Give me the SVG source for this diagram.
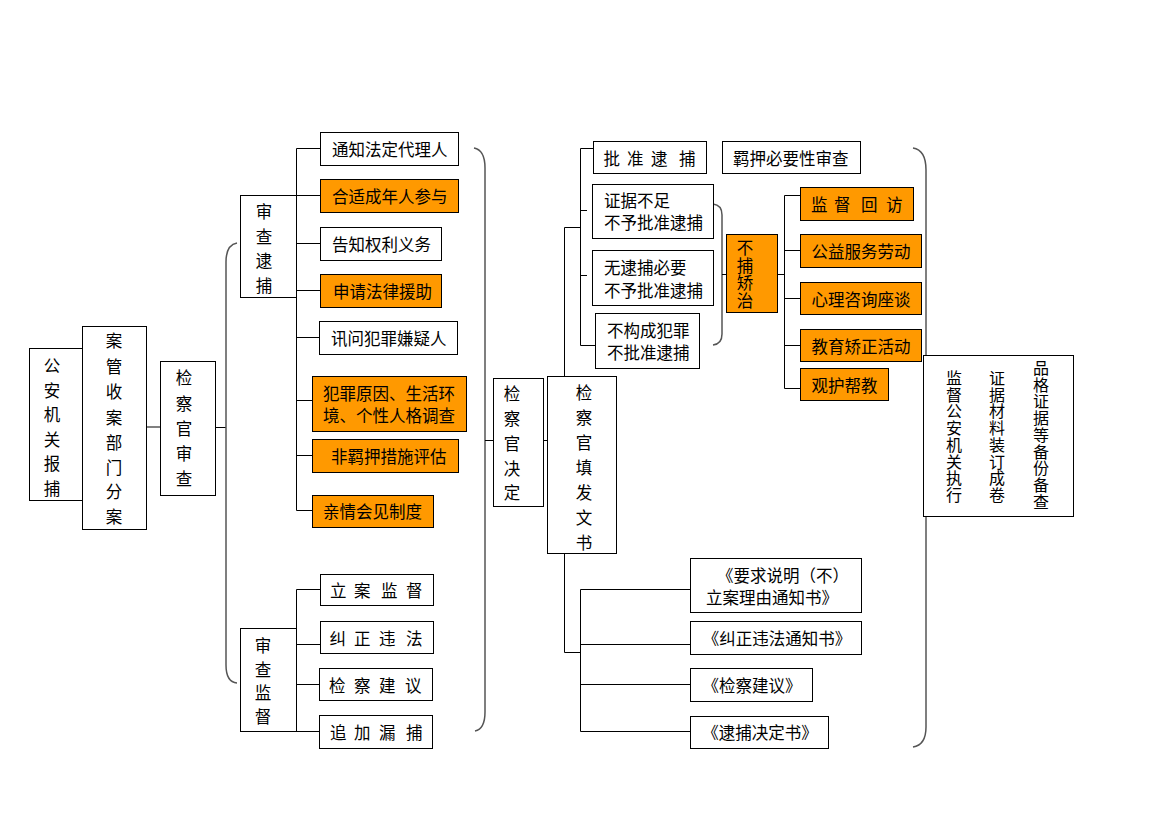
<svg xmlns="http://www.w3.org/2000/svg" width="1160" height="821" viewBox="0 0 1160 821">
<style>
.box{fill:#fff;stroke:#000;stroke-width:1}
.org{fill:#f90;stroke:#000;stroke-width:1}
.t{font-family:"Noto Sans CJK SC","Noto Sans CJK JP",sans-serif;font-size:16.5px;fill:#000;dominant-baseline:central}
.v{text-anchor:middle}
.m{text-anchor:middle}
.col{font-family:"Noto Sans CJK SC","Noto Sans CJK JP",sans-serif;font-size:16px;fill:#000;writing-mode:vertical-rl;letter-spacing:0.7px}
.ln{stroke:#000;stroke-width:1;fill:none}
.br{stroke:#555;stroke-width:1.5;fill:none}
</style>
<defs>
<marker id="ah" markerWidth="10" markerHeight="10" refX="9" refY="4.5" orient="auto" markerUnits="userSpaceOnUse">
<path d="M0,0 L9,4.5 L0,9 z" fill="#000"/>
</marker>
</defs>
<rect width="1160" height="821" fill="#fff"/>
<g id="connectors">
<line class="ln" x1="67" y1="424.5" x2="82" y2="424.5" marker-end="url(#ah)"/>
<line x1="147" y1="427" x2="160" y2="427" stroke="#808080" stroke-width="2"/>
<line class="ln" x1="197" y1="427.5" x2="226" y2="427.5"/>
<path class="br" d="M237,243 Q226,245 226,262 V665 Q226,682 237,683"/>
<line class="ln" x1="281" y1="235.5" x2="296" y2="235.5"/>
<path class="ln" d="M296.5,148.5 V510.5 M296.5,148.5 H320 M296.5,195.5 H320 M296.5,243.5 H320 M296.5,290.5 H320 M296.5,337.5 H319 M296.5,400.5 H312 M296.5,455.5 H312 M296.5,510.5 H312"/>
<line class="ln" x1="276" y1="668.5" x2="296" y2="668.5"/>
<path class="ln" d="M296.5,589.5 V731.5 M296.5,589.5 H320 M296.5,644.5 H320 M296.5,684.5 H319 M296.5,731.5 H319"/>
<path class="br" d="M474,148 Q485,150 485,168 V712 Q485,729 475,731"/>
<line class="ln" x1="485" y1="440.5" x2="493" y2="440.5"/>
<line class="ln" x1="530" y1="440.5" x2="547" y2="440.5"/>
<path class="ln" d="M564.5,376.5 V227.5 H580.5 M580.5,148.5 V345.5 M580.5,148.5 H595 M580.5,210.5 H587 M580.5,275.5 H587 M580.5,345.5 H595"/>
<path class="br" d="M713,204 Q722,205 722,215 V334 Q722,344 713,345"/>
<line class="ln" x1="722" y1="274.5" x2="726" y2="274.5"/>
<path class="ln" d="M778,274.5 H784.5 M784.5,195.5 V388.5 M784.5,195.5 H800 M784.5,250.5 H800 M784.5,298.5 H800 M784.5,345.5 H800 M784.5,388.5 H800"/>
<path class="br" d="M913,148 Q926,150 926,170 V727 Q926,745 913,747"/>
<line class="ln" x1="926" y1="431.5" x2="947" y2="431.5"/>
<path class="ln" d="M564.5,554 V652.5 H580.5 M580.5,589.5 V731.5 M580.5,589.5 H690 M580.5,644.5 H690 M580.5,684.5 H690 M580.5,731.5 H690"/>
</g>
<g id="n-gongan">
<rect class="box" x="29.5" y="348.5" width="55" height="152"/>
<text class="t v"><tspan x="52" y="365">公</tspan><tspan x="52" y="389.5">安</tspan><tspan x="52" y="414">机</tspan><tspan x="52" y="438.5">关</tspan><tspan x="52" y="463">报</tspan><tspan x="52" y="487.5">捕</tspan></text>
</g>
<g id="n-anguan">
<rect class="box" x="82.5" y="326.5" width="64" height="203"/>
<text class="t v"><tspan x="114" y="340">案</tspan><tspan x="114" y="365.5">管</tspan><tspan x="114" y="391">收</tspan><tspan x="114" y="416.5">案</tspan><tspan x="114" y="441.5">部</tspan><tspan x="114" y="466.5">门</tspan><tspan x="114" y="491">分</tspan><tspan x="114" y="516">案</tspan></text>
</g>
<g id="n-jcgsc">
<rect class="box" x="160.5" y="361.5" width="55" height="134"/>
<text class="t v"><tspan x="184" y="377">检</tspan><tspan x="184" y="402.5">察</tspan><tspan x="184" y="428">官</tspan><tspan x="184" y="453">审</tspan><tspan x="184" y="478">查</tspan></text>
</g>
<g id="n-scdb">
<rect class="box" x="240.5" y="195.5" width="56" height="102"/>
<text class="t v"><tspan x="264" y="211">审</tspan><tspan x="264" y="236">查</tspan><tspan x="264" y="260">逮</tspan><tspan x="264" y="285">捕</tspan></text>
</g>
<g id="n-scjd">
<rect class="box" x="240.5" y="628.5" width="56" height="103"/>
<text class="t v"><tspan x="263" y="645">审</tspan><tspan x="263" y="668.5">查</tspan><tspan x="263" y="692">监</tspan><tspan x="263" y="716">督</tspan></text>
</g>
<g id="b1"><rect class="box" x="320.5" y="132.5" width="138" height="33"/><text class="t" x="332" y="149">通知法定代理人</text></g>
<g id="b2"><rect class="org" x="320.5" y="179.5" width="138" height="33"/><text class="t" x="332" y="196">合适成年人参与</text></g>
<g id="b3"><rect class="box" x="320.5" y="227.5" width="121" height="33"/><text class="t" x="332" y="244">告知权利义务</text></g>
<g id="b4"><rect class="org" x="320.5" y="274.5" width="121" height="33"/><text class="t" x="333" y="291">申请法律援助</text></g>
<g id="b5"><rect class="box" x="319.5" y="321.5" width="138" height="33"/><text class="t" x="331" y="338">讯问犯罪嫌疑人</text></g>
<g id="b6"><rect class="org" x="312.5" y="376.5" width="154" height="55"/><text class="t"><tspan x="323" y="393">犯罪原因、生活环</tspan><tspan x="323" y="415">境、个性人格调查</tspan></text></g>
<g id="b7"><rect class="org" x="312.5" y="439.5" width="146" height="33"/><text class="t" x="331" y="456">非羁押措施评估</text></g>
<g id="b8"><rect class="org" x="312.5" y="495.5" width="121" height="32"/><text class="t" x="323" y="511">亲情会见制度</text></g>
<g id="s1"><rect class="box" x="320.5" y="574.5" width="113" height="31"/><text class="t" x="330 354 381 406" y="590">立案监督</text></g>
<g id="s2"><rect class="box" x="320.5" y="621.5" width="113" height="32"/><text class="t" x="329.5 354 379 406" y="637.5">纠正违法</text></g>
<g id="s3"><rect class="box" x="319.5" y="668.5" width="113" height="32"/><text class="t" x="329 354 379 405" y="685">检察建议</text></g>
<g id="s4"><rect class="box" x="319.5" y="715.5" width="113" height="33"/><text class="t" x="330 354 379 406" y="732">追加漏捕</text></g>
<g id="d1">
<rect class="box" x="493.5" y="378.5" width="50" height="128"/>
<text class="t v"><tspan x="512" y="393">检</tspan><tspan x="512" y="418">察</tspan><tspan x="512" y="443">官</tspan><tspan x="512" y="468">决</tspan><tspan x="512" y="492">定</tspan></text>
</g>
<g id="d2">
<rect class="box" x="547.5" y="376.5" width="69" height="177"/>
<text class="t v"><tspan x="584" y="392">检</tspan><tspan x="584" y="417">察</tspan><tspan x="584" y="442">官</tspan><tspan x="584" y="467">填</tspan><tspan x="584" y="492">发</tspan><tspan x="584" y="517">文</tspan><tspan x="584" y="542">书</tspan></text>
</g>
<g id="r1"><rect class="box" x="593.5" y="141.5" width="113" height="32"/><text class="t" x="603.5 627 651 679" y="157.5">批准逮捕</text></g>
<g id="r2"><rect class="box" x="722.5" y="141.5" width="138" height="32"/><text class="t" x="733" y="157.5">羁押必要性审查</text></g>
<g id="r3"><rect class="box" x="592.5" y="184.5" width="121" height="54"/><text class="t"><tspan x="604" y="200">证据不足</tspan><tspan x="604" y="222">不予批准逮捕</tspan></text></g>
<g id="r4"><rect class="box" x="592.5" y="250.5" width="121" height="55"/><text class="t"><tspan x="604" y="267">无逮捕必要</tspan><tspan x="604" y="290">不予批准逮捕</tspan></text></g>
<g id="r5"><rect class="box" x="595.5" y="313.5" width="104" height="55"/><text class="t"><tspan x="607" y="330">不构成犯罪</tspan><tspan x="607" y="352">不批准逮捕</tspan></text></g>
<g id="r6">
<rect class="org" x="726.5" y="234.5" width="51" height="78"/>
<text class="col" x="745" y="239.5" style="font-size:16.5px;letter-spacing:1px">不捕矫治</text>
</g>
<g id="c1"><rect class="org" x="800.5" y="187.5" width="113" height="33"/><text class="t" x="811 834 861 886" y="204">监督回访</text></g>
<g id="c2"><rect class="org" x="800.5" y="234.5" width="121" height="33"/><text class="t" x="811.5" y="251">公益服务劳动</text></g>
<g id="c3"><rect class="org" x="800.5" y="282.5" width="121" height="32"/><text class="t" x="811.5" y="298.5">心理咨询座谈</text></g>
<g id="c4"><rect class="org" x="800.5" y="329.5" width="121" height="32"/><text class="t" x="811.5" y="345.5">教育矫正活动</text></g>
<g id="c5"><rect class="org" x="800.5" y="368.5" width="88" height="32"/><text class="t" x="811.5" y="384.5">观护帮教</text></g>
<g id="f1">
<rect class="box" x="923.5" y="355.5" width="150" height="161"/>
<text class="col" x="954" y="370">监督公安机关执行</text>
<text class="col" x="997" y="370">证据材料装订成卷</text>
<text class="col" x="1041" y="360">品格证据等备份备查</text>
</g>
<g id="w1"><rect class="box" x="690.5" y="558.5" width="171" height="54"/><text class="t"><tspan x="783" y="575" text-anchor="middle">《要求说明（不）</tspan><tspan x="706" y="597">立案理由通知书》</tspan></text></g>
<g id="w2"><rect class="box" x="690.5" y="621.5" width="171" height="33"/><text class="t m" x="777" y="637.5">《纠正违法通知书》</text></g>
<g id="w3"><rect class="box" x="690.5" y="668.5" width="122" height="33"/><text class="t m" x="752" y="685">《检察建议》</text></g>
<g id="w4"><rect class="box" x="690.5" y="716.5" width="138" height="32"/><text class="t m" x="760" y="732">《逮捕决定书》</text></g>
</svg>
